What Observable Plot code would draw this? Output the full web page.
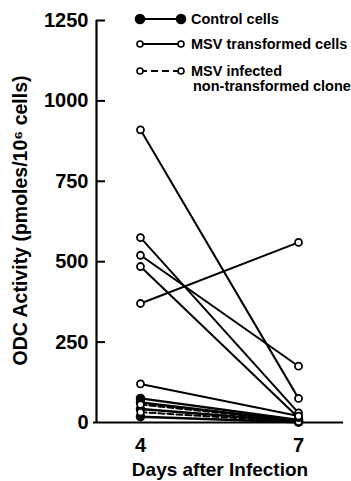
<!DOCTYPE html>
<html><head><meta charset="utf-8">
<script src="https://cdn.jsdelivr.net/npm/d3@7"></script>
<script src="https://cdn.jsdelivr.net/npm/@observablehq/plot@0.6"></script>
<style>
body{margin:0;background:#fff;}
#wrap{position:relative;width:351px;height:481px;}
</style></head><body><div id="wrap"></div>
<script>
const days = [4, 7];
const controlDay4 = [75, 62, 42, 18];
const controlDay7 = [8, 5, 3, 1];
const transformedDay4 = [910, 575, 520, 485, 370, 120];
const transformedDay7 = [75, 30, 175, 15, 560, 20];
const infectedDay4 = [56, 32];
const infectedDay7 = [4, 2];
const yTicks = [0, 250, 500, 750, 1000, 1250];
const xTicks = [4, 7];
const legendLabels = ["Control cells", "MSV transformed cells", "MSV infected", "non-transformed clone"];
const yLabel = "ODC Activity (pmoles/10⁶ cells)";
const xLabel = "Days after Infection";

function rows(group, d4, d7) {
  const out = [];
  d4.forEach((v, i) => {
    out.push({group, id: group + i, day: days[0], odc: v});
    out.push({group, id: group + i, day: days[1], odc: d7[i]});
  });
  return out;
}
const control = rows("control", controlDay4, controlDay7);
const transformed = rows("transformed", transformedDay4, transformedDay7);
const infected = rows("infected", infectedDay4, infectedDay7);

const W = 351, H = 481, mL = 96, mR = 8, mT = 20, mB = 59;
const xDomain = [3.165, 7.854];
const font = "'Liberation Sans', Arial, Helvetica, sans-serif";

const plot = Plot.plot({
  width: W, height: H,
  marginLeft: mL, marginRight: mR, marginTop: mT, marginBottom: mB,
  x: {domain: xDomain},
  y: {domain: [0, 1250]},
  style: {fontFamily: font, fontWeight: "bold", fontSize: "19px", color: "#000", background: "#fff"},
  marks: [
    Plot.ruleX([xDomain[0]], {y1: 0, y2: 1250, strokeWidth: 2.2, stroke: "#000"}),
    Plot.ruleY([0], {strokeWidth: 2.2, stroke: "#000", insetLeft: -3}),
    Plot.ruleY(yTicks.filter(t => t > 0), {strokeWidth: 2, stroke: "#000", insetRight: W - mL - mR - 9}),
    Plot.axisY(yTicks, {tickSize: 0, tickPadding: 8, label: null, tickFormat: d => String(d), fontSize: 20, fontWeight: "bold"}),
    Plot.axisX(xTicks, {tickSize: 0, tickPadding: 15, label: null, tickFormat: d => String(d), fontSize: 20, fontWeight: "bold"}),
    Plot.line(control, {x: "day", y: "odc", z: "id", stroke: "#000", strokeWidth: 2.5}),
    Plot.line(infected, {x: "day", y: "odc", z: "id", stroke: "#000", strokeWidth: 2, strokeDasharray: "6,3"}),
    Plot.line(transformed, {x: "day", y: "odc", z: "id", stroke: "#000", strokeWidth: 2}),
    Plot.dot(control, {x: "day", y: "odc", r: 4, fill: "#000", stroke: "#000"}),
    Plot.dot(infected, {x: "day", y: "odc", r: 3.3, fill: "#fff", stroke: "#000", strokeWidth: 1.6}),
    Plot.dot(transformed, {x: "day", y: "odc", r: 3.5, fill: "#fff", stroke: "#000", strokeWidth: 1.8}),
    Plot.text([yLabel], {text: d => d, frameAnchor: "left", textAnchor: "middle", dx: -76, dy: -1, rotate: -90, fontSize: 19.5, fontWeight: "bold"}),
    Plot.text([xLabel], {text: d => d, frameAnchor: "bottom", lineAnchor: "top", dy: 40, fontSize: 19, fontWeight: "bold"})
  ]
});
document.getElementById("wrap").appendChild(plot);

// legend drawn into the same svg
const svg = d3.select(plot);
const lg = svg.append("g").attr("font-family", font).attr("font-weight", "bold").attr("font-size", 14.5).attr("text-anchor", "start");
const items = [
  {y: 19, dash: null, filled: true, lines: [legendLabels[0]]},
  {y: 44, dash: null, filled: false, lines: [legendLabels[1]]},
  {y: 71, dash: "7,4", filled: false, lines: [legendLabels[2], legendLabels[3]]}
];
items.forEach(it => {
  lg.append("line").attr("x1", 140).attr("x2", 181).attr("y1", it.y).attr("y2", it.y)
    .attr("stroke", "#000").attr("stroke-width", 2).attr("stroke-dasharray", it.dash);
  [140, 181].forEach(cx => {
    lg.append("circle").attr("cx", cx).attr("cy", it.y).attr("r", it.filled ? 4.5 : 3)
      .attr("fill", it.filled ? "#000" : "#fff").attr("stroke", "#000").attr("stroke-width", 1.6);
  });
  it.lines.forEach((t, j) => {
    lg.append("text").attr("x", j === 0 ? 191 : 193).attr("y", it.y + j * 15).attr("dy", "0.35em").attr("text-anchor", "start").text(t);
  });
});
</script></body></html>
